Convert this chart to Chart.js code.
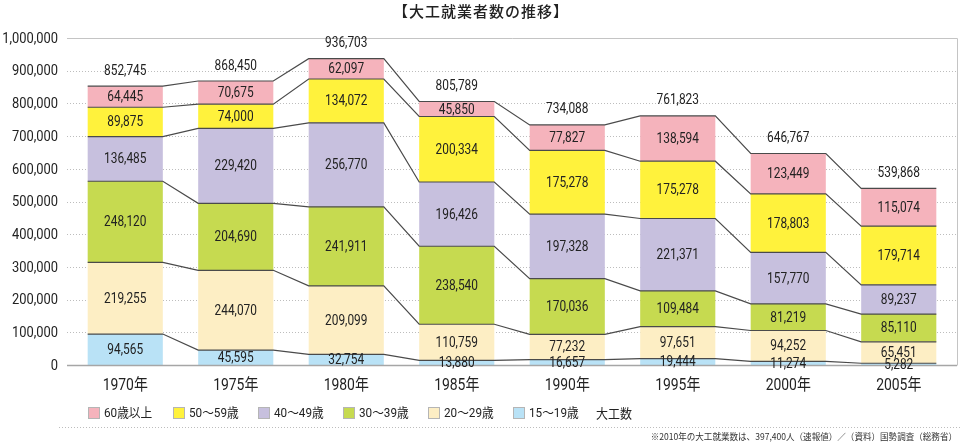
<!DOCTYPE html>
<html><head><meta charset="utf-8">
<script src="https://cdn.jsdelivr.net/npm/chart.js@4.4.0/dist/chart.umd.min.js"></script>
<style>html,body{margin:0;padding:0;background:#fff;overflow:hidden}#wrap{position:relative;width:962px;height:445px}</style>
</head><body><div id="wrap"><canvas id="c" width="962" height="445"></canvas></div>
<script>
// ---- data ----
const categories = ['1970年','1975年','1980年','1985年','1990年','1995年','2000年','2005年'];
const age15 = [94565, 45595, 32754, 13880, 16657, 19444, 11274, 5282];
const age20 = [219255, 244070, 209099, 110759, 77232, 97651, 94252, 65451];
const age30 = [248120, 204690, 241911, 238540, 170036, 109484, 81219, 85110];
const age40 = [136485, 229420, 256770, 196426, 197328, 221371, 157770, 89237];
const age50 = [89875, 74000, 134072, 200334, 195008, 175278, 178803, 179714];
const age50Printed = [89875, 74000, 134072, 200334, 175278, 175278, 178803, 179714];
const age60 = [64445, 70675, 62097, 45850, 77827, 138594, 123449, 115074];
const totals = [852745, 868450, 936703, 805789, 734088, 761823, 646767, 539868];
const yTicksMax = 1000000;
const yTickStep = 100000;
const seriesNames = ['15〜19歳','20〜29歳','30〜39歳','40〜49歳','50〜59歳','60歳以上'];
const totalName = '大工数';
const titleText = '【大工就業者数の推移】';
const noteText = '※2010年の大工就業数は、397,400人（速報値）／（資料）国勢調査（総務省）';

// ---- styles ----
const colors = ['#b9e2f6','#fdeec4','#c6da50','#c7c0de','#fff23c','#f5b3bc'];
const NUM_FONT = 'Roboto, "Noto Sans CJK JP", sans-serif';
const JP_FONT = '"Noto Sans CJK JP", sans-serif';
const fmt = v => v.toLocaleString('en-US');

const seriesValues = [age15, age20, age30, age40, age50, age60];
const seriesPrinted = [age15, age20, age30, age40, age50Printed, age60];

function txt(ctx, s, x, y, align, font, sx, color) {
  ctx.save();
  ctx.font = font; ctx.fillStyle = color || '#222';
  ctx.textAlign = align; ctx.textBaseline = 'middle';
  ctx.translate(x, y); ctx.scale(sx, 1);
  ctx.fillText(s, 0, 0);
  ctx.restore();
}

const decor = {
  id: 'decor',
  beforeDatasetsDraw(chart) {
    const {ctx, chartArea: a, scales: {x, y}} = chart;
    const L = a.left - 3, R = a.right + 3;
    ctx.save();
    ctx.strokeStyle = '#bdbdbd'; ctx.lineWidth = 1; ctx.setLineDash([1, 2]);
    y.ticks.forEach(t => {
      if (t.value <= 0 || t.value >= yTicksMax) return;
      const py = Math.round(y.getPixelForValue(t.value)) + 0.5;
      ctx.beginPath(); ctx.moveTo(L, py); ctx.lineTo(R, py); ctx.stroke();
    });
    ctx.setLineDash([]);
    const top = Math.round(y.getPixelForValue(yTicksMax)) + 0.5;
    const bot = Math.round(y.getPixelForValue(0)) + 0.5;
    ctx.strokeStyle = '#c4c4c4';
    ctx.beginPath(); ctx.moveTo(L, top); ctx.lineTo(R + 0.5, top); ctx.lineTo(R + 0.5, bot); ctx.stroke();
    ctx.restore();
    // y tick labels
    y.ticks.forEach(t => {
      txt(ctx, fmt(t.value), 58, y.getPixelForValue(t.value) + 1, 'right', '15px ' + NUM_FONT, 0.86);
    });
    // x tick labels
    x.ticks.forEach((t, i) => {
      txt(ctx, chart.data.labels[i], x.getPixelForTick(i), 386, 'center', '16px ' + NUM_FONT, 0.87);
    });
  },
  afterDatasetsDraw(chart) {
    const {ctx, chartArea: a, scales: {y}} = chart;
    const L = a.left - 3, R = a.right + 3;
    ctx.save();
    const bot = Math.round(y.getPixelForValue(0)) + 0.5;
    ctx.strokeStyle = '#a6a6a6'; ctx.lineWidth = 1.5;
    ctx.beginPath(); ctx.moveTo(L, bot); ctx.lineTo(R, bot); ctx.stroke();
    ctx.strokeStyle = '#4a4a4a'; ctx.lineWidth = 1.2;
    chart.data.datasets.forEach((ds, i) => {
      const meta = chart.getDatasetMeta(i);
      ctx.beginPath();
      meta.data.forEach((el, j) => {
        const l = el.x - el.width / 2, r = el.x + el.width / 2;
        if (j === 0) ctx.moveTo(l, el.y); else ctx.lineTo(l, el.y);
        ctx.lineTo(r, el.y);
      });
      ctx.stroke();
    });
    ctx.restore();
    const f = '14px ' + NUM_FONT;
    chart.data.datasets.forEach((ds, i) => {
      const meta = chart.getDatasetMeta(i);
      meta.data.forEach((el, j) => {
        txt(ctx, fmt(seriesPrinted[i][j]), el.x, (el.y + el.base) / 2 + 1, 'center', f, 0.85);
      });
    });
    const topMeta = chart.getDatasetMeta(chart.data.datasets.length - 1);
    topMeta.data.forEach((el, j) => {
      txt(ctx, fmt(totals[j]), el.x, el.y - 15, 'center', f, 0.85);
    });
  },
  afterDraw(chart) {
    const {ctx} = chart;
    ctx.save();
    ctx.fillStyle = '#222'; ctx.textAlign = 'center'; ctx.textBaseline = 'middle';
    ctx.font = '500 15px ' + JP_FONT;
    try { ctx.letterSpacing = '1px'; } catch (e) {}
    ctx.fillText(titleText, 481, 11);
    try { ctx.letterSpacing = '0px'; } catch (e) {}
    ctx.restore();
    for (let k = 0; k < seriesNames.length; k++) {
      const idx = seriesNames.length - 1 - k;
      const bx = 88 + 85 * k;
      ctx.save();
      ctx.fillStyle = colors[idx];
      ctx.fillRect(bx, 407, 12, 12);
      ctx.strokeStyle = '#b5b5b5'; ctx.lineWidth = 1;
      ctx.strokeRect(bx + 0.5, 407.5, 11, 11);
      ctx.restore();
      txt(ctx, seriesNames[idx], bx + 16, 413.5, 'left', '13px ' + NUM_FONT, 0.9);
    }
    txt(ctx, totalName, 596, 413.5, 'left', '13px ' + JP_FONT, 0.92);
    ctx.save();
    ctx.strokeStyle = '#bdbdbd'; ctx.lineWidth = 1; ctx.setLineDash([1, 2]);
    ctx.beginPath(); ctx.moveTo(59, 427.5); ctx.lineTo(962, 427.5); ctx.stroke();
    ctx.restore();
    txt(ctx, noteText, 957, 437, 'right', '9px ' + JP_FONT, 0.95, '#333');
  }
};

new Chart(document.getElementById('c'), {
  type: 'bar',
  data: {
    labels: categories,
    datasets: seriesValues.map((vals, i) => ({
      label: seriesNames[i], data: vals, backgroundColor: colors[i], borderWidth: 0
    }))
  },
  options: {
    responsive: false, animation: false, devicePixelRatio: 1,
    layout: {padding: {top: 38, right: 8, bottom: 40, left: 0}},
    datasets: {bar: {barPercentage: 0.68, categoryPercentage: 1}},
    plugins: {legend: {display: false}, tooltip: {enabled: false}, title: {display: false}},
    scales: {
      x: {stacked: true, grid: {display: false, drawTicks: false}, border: {display: false},
          ticks: {display: false}, afterFit(s) { s.height = 40; }},
      y: {stacked: true, min: 0, max: yTicksMax,
          ticks: {display: false, stepSize: yTickStep},
          grid: {display: false, drawTicks: false}, border: {display: false},
          afterFit(s) { s.width = 70; }}
    }
  },
  plugins: [decor]
});
</script></body></html>
